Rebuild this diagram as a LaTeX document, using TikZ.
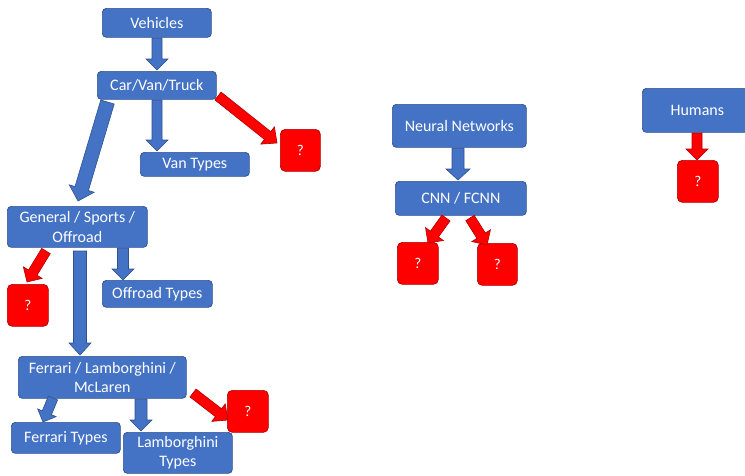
\documentclass[tikz,border=0pt]{standalone}
\usepackage{fontspec}
\setmainfont{Carlito}
\usetikzlibrary{calc}
\definecolor{obl}{HTML}{4472C4}
\definecolor{obd}{HTML}{2F528F}
\definecolor{ored}{HTML}{FF0000}
\definecolor{ordk}{HTML}{B00000}
\tikzset{
  bbox/.style={rectangle, rounded corners=4pt, fill=obl, draw=obd, line width=0.7pt, text=white, align=center, font=\fontsize{16}{19.5}\selectfont, inner sep=1pt},
  qbox/.style={rectangle, rounded corners=5pt, fill=ored, draw=ordk, line width=0.7pt, text=white, align=center, font=\fontsize{15}{18}\selectfont, inner sep=1pt},
  barr/.style={fill=obl, draw=obd, line width=0.6pt},
  rarr/.style={fill=ored, draw=ordk, line width=0.6pt},
}
% #1 style, #2 from, #3 to, #4 shaft half width, #5 head half width, #6 head length
\newcommand{\blkarrow}[6]{%
  \path[#1] let \p1=(#2), \p2=(#3), \n1={atan2(\y2-\y1,\x2-\x1)}, \n2={veclen(\x2-\x1,\y2-\y1)} in
    ($(\p1)+(\n1+90:#4)$) -- ($(\p1)+(\n1:{\n2-#6})+(\n1+90:#4)$) -- ($(\p1)+(\n1:{\n2-#6})+(\n1+90:#5)$) -- (\p2)
    -- ($(\p1)+(\n1:{\n2-#6})+(\n1-90:#5)$) -- ($(\p1)+(\n1:{\n2-#6})+(\n1-90:#4)$) -- ($(\p1)+(\n1-90:#4)$) -- cycle;}
\newcommand{\bx}[7]{\node[#1, anchor=north west, minimum width={(#5-#3)*1pt}, minimum height={(#6-#4)*1pt}] (#2) at (#3,-#4) {#7};}
\begin{document}
\begin{tikzpicture}[x=1pt,y=1pt]
\useasboundingbox (0,0) rectangle (745,-475);
\begin{scope}
\clip (0,0) rectangle (745,-475);
% boxes
\bx{bbox}{veh}{102}{8}{211}{37}{Vehicles}
\bx{bbox}{cvt}{97}{71}{216}{99}{Car/Van/Truck}
\bx{bbox}{van}{140}{152}{249}{176}{Van Types}
\bx{qbox}{q1}{280}{129}{320}{171}{?}
\bx{bbox}{gso}{7}{206}{147}{247}{General / Sports /\\Offroad}
\bx{qbox}{q2}{7}{284}{48}{326}{?}
\bx{bbox}{off}{102}{280}{212}{307}{Offroad Types}
\bx{bbox}{flm}{18}{356}{186}{398}{Ferrari / Lamborghini /\\McLaren}
\bx{qbox}{q3}{227}{390}{268}{432}{?}
\bx{bbox}{fer}{11}{422}{120}{453}{Ferrari Types}
\bx{bbox}{lam}{123}{432}{232}{473}{Lamborghini\\Types}
\bx{bbox}{nn}{392}{104}{526}{147}{Neural Networks}
\bx{bbox}{cnn}{395}{181}{526}{215}{CNN / FCNN}
\bx{qbox}{q4}{397}{242}{438}{284}{?}
\bx{qbox}{q5}{477}{243}{517}{285}{?}
\bx{bbox}{hum}{642}{88}{752}{132}{Humans}
\bx{qbox}{q6}{677}{160}{718}{202}{?}
% arrow end points
\coordinate (a1s) at (157,-38); \coordinate (a1e) at (157,-70);
\coordinate (a2s) at (157,-100); \coordinate (a2e) at (157,-151);
\coordinate (a3s) at (107.5,-102); \coordinate (a3e) at (78,-201);
\coordinate (a4s) at (123,-248); \coordinate (a4e) at (123,-280);
\coordinate (a5s) at (80,-251); \coordinate (a5e) at (80,-355);
\coordinate (a6s) at (53,-398); \coordinate (a6e) at (43,-422);
\coordinate (a7s) at (141,-399); \coordinate (a7e) at (141,-431);
\coordinate (a8s) at (458,-148); \coordinate (a8e) at (458,-180);
\coordinate (r1s) at (218,-96); \coordinate (r1e) at (277,-143);
\coordinate (r2s) at (46,-251); \coordinate (r2e) at (27,-282);
\coordinate (r3s) at (193,-393); \coordinate (r3e) at (228,-420);
\coordinate (r4s) at (446,-218); \coordinate (r4e) at (428,-243);
\coordinate (r5s) at (470,-218); \coordinate (r5e) at (487,-245);
\coordinate (r6s) at (697,-133); \coordinate (r6e) at (697,-160);
% blue arrows
\blkarrow{barr}{a1s}{a1e}{5}{11}{11}
\blkarrow{barr}{a2s}{a2e}{5}{11}{11}
\blkarrow{barr}{a3s}{a3e}{7}{13}{13}
\blkarrow{barr}{a4s}{a4e}{5.5}{11}{11}
\blkarrow{barr}{a5s}{a5e}{6.5}{11}{12}
\blkarrow{barr}{a6s}{a6e}{5}{10}{10}
\blkarrow{barr}{a7s}{a7e}{6}{11}{11}
\blkarrow{barr}{a8s}{a8e}{6}{12}{11}
% red arrows
\blkarrow{rarr}{r1s}{r1e}{5}{11}{12}
\blkarrow{rarr}{r2s}{r2e}{5}{11}{11}
\blkarrow{rarr}{r3s}{r3e}{5}{11}{12}
\blkarrow{rarr}{r4s}{r4e}{5}{11}{11}
\blkarrow{rarr}{r5s}{r5e}{5}{11}{11}
\blkarrow{rarr}{r6s}{r6e}{5}{11}{11}
\end{scope}
\end{tikzpicture}
\end{document}
